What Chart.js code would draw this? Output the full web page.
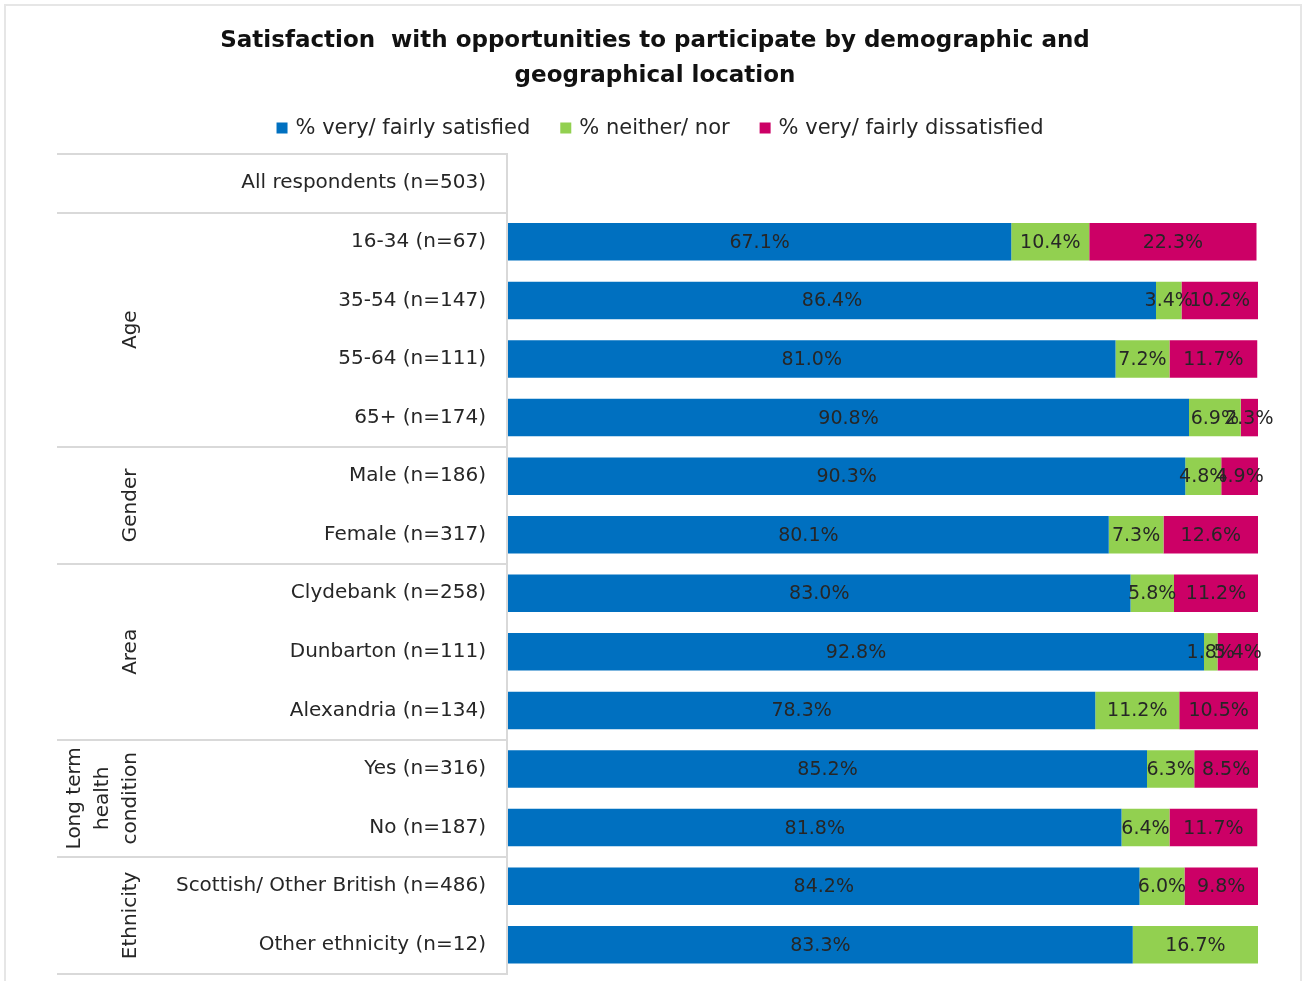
<!DOCTYPE html>
<html>
<head>
<meta charset="utf-8">
<title>Satisfaction with opportunities to participate</title>
<script src="https://cdn.jsdelivr.net/npm/chart.js@4.4.1/dist/chart.umd.min.js"></script>
<style>
  html, body { margin: 0; padding: 0; background: #fff; overflow: hidden; }
  #frame { position: absolute; left: 4px; top: 4px; width: 1298px; height: 1010px;
           border: 2px solid #e6e6e6; box-sizing: border-box; }
  #wrap { position: absolute; left: 0; top: 0; width: 1305px; height: 981px; }
</style>
</head>
<body>
<div id="frame"></div>
<div id="wrap"><canvas id="chart" width="1305" height="981"></canvas></div>
<script>
// Survey breakdown: share of respondents in each answer band, per sub-group
const titleLines = [
  'Satisfaction  with opportunities to participate by demographic and',
  'geographical location'
];
const categories = [
  'All respondents (n=503)',
  '16-34 (n=67)', '35-54 (n=147)', '55-64 (n=111)', '65+ (n=174)',
  'Male (n=186)', 'Female (n=317)',
  'Clydebank (n=258)', 'Dunbarton (n=111)', 'Alexandria (n=134)',
  'Yes (n=316)', 'No (n=187)',
  'Scottish/ Other British (n=486)', 'Other ethnicity (n=12)'
];
const seriesNames = ['% very/ fairly satisfied', '% neither/ nor', '% very/ fairly dissatisfied'];
const satisfied    = [null, 67.1, 86.4, 81.0, 90.8, 90.3, 80.1, 83.0, 92.8, 78.3, 85.2, 81.8, 84.2, 83.3];
const neither      = [null, 10.4,  3.4,  7.2,  6.9,  4.8,  7.3,  5.8,  1.8, 11.2,  6.3,  6.4,  6.0, 16.7];
const dissatisfied = [null, 22.3, 10.2, 11.7,  2.3,  4.9, 12.6, 11.2,  5.4, 10.5,  8.5, 11.7,  9.8, null];

// Row groups shown as rotated headings in the label table
const groupNames = [['Age'], ['Gender'], ['Area'], ['Long term', 'health', 'condition'], ['Ethnicity']];
const groupFirst = [1, 5, 7, 10, 12];
const groupLast  = [4, 6, 9, 11, 13];

const colors = ['#0070c0', '#92d050', '#cc0066'];
const textColor = '#262626';
const FONT = '"DejaVu Sans", sans-serif';

// Title, legend and the grouped label table around the bars
const framePlugin = {
  id: 'frameAndTable',
  afterDraw(chart) {
    const { ctx, chartArea, scales: { y } } = chart;
    const rowH = (y.bottom - y.top) / categories.length;
    const rowTop = i => y.getPixelForValue(i) - rowH / 2;
    ctx.save();

    // title
    ctx.fillStyle = '#111';
    ctx.font = 'bold 23px ' + FONT;
    ctx.textAlign = 'center';
    ctx.textBaseline = 'middle';
    titleLines.forEach((t, i) => ctx.fillText(t, 655, 41 + i * 35));

    // legend
    ctx.font = '21px ' + FONT;
    const box = 11, gapBox = 8, gapItem = 30;
    const widths = seriesNames.map(t => ctx.measureText(t).width);
    const total = widths.reduce((a, w) => a + w + box + gapBox, 0) + gapItem * (seriesNames.length - 1);
    let lx = 660 - total / 2;
    const ly = 128;
    ctx.textAlign = 'left';
    seriesNames.forEach((t, i) => {
      ctx.fillStyle = colors[i];
      ctx.fillRect(lx, ly - box / 2, box, box);
      lx += box + gapBox;
      ctx.fillStyle = textColor;
      ctx.fillText(t, lx, ly + 1);
      lx += widths[i] + gapItem;
    });

    // table rules
    ctx.strokeStyle = '#d9d9d9';
    ctx.lineWidth = 2;
    const rules = [0, ...groupFirst, categories.length];
    rules.forEach(i => {
      const py = Math.round(rowTop(i));
      ctx.beginPath();
      ctx.moveTo(57, py);
      ctx.lineTo(chartArea.left, py);
      ctx.stroke();
    });
    ctx.beginPath();
    ctx.moveTo(chartArea.left - 1, Math.round(rowTop(0)));
    ctx.lineTo(chartArea.left - 1, Math.round(rowTop(categories.length)));
    ctx.stroke();

    // rotated group headings
    ctx.fillStyle = textColor;
    ctx.font = '20px ' + FONT;
    ctx.textAlign = 'center';
    ctx.textBaseline = 'middle';
    groupNames.forEach((lines, k) => {
      const cy = (rowTop(groupFirst[k]) + rowTop(groupLast[k] + 1)) / 2;
      lines.forEach((t, j) => {
        const cx = 131 - (lines.length - 1 - j) * 28;
        ctx.save();
        ctx.translate(cx, cy);
        ctx.rotate(-Math.PI / 2);
        ctx.fillText(t, 0, 0);
        ctx.restore();
      });
    });
    ctx.restore();
  }
};

// Percentage labels centred in each bar segment
const valueLabels = {
  id: 'valueLabels',
  afterDatasetsDraw(chart) {
    const { ctx } = chart;
    ctx.save();
    ctx.font = '19px ' + FONT;
    ctx.fillStyle = textColor;
    ctx.textAlign = 'center';
    ctx.textBaseline = 'middle';
    chart.data.datasets.forEach((ds, di) => {
      chart.getDatasetMeta(di).data.forEach((el, i) => {
        const v = ds.data[i];
        if (v == null || v === 0) return;
        const p = el.getCenterPoint();
        ctx.fillText(v.toFixed(1) + '%', p.x, p.y + 1);
      });
    });
    ctx.restore();
  }
};

new Chart(document.getElementById('chart'), {
  type: 'bar',
  data: {
    labels: categories,
    datasets: [satisfied, neither, dissatisfied].map((d, i) => ({
      label: seriesNames[i],
      data: d,
      backgroundColor: colors[i],
      borderWidth: 0,
      barPercentage: 1,
      categoryPercentage: 0.64
    }))
  },
  options: {
    indexAxis: 'y',
    responsive: false,
    animation: false,
    layout: { padding: { top: 154, right: 47, bottom: 7, left: 0 } },
    plugins: {
      legend: { display: false },
      title: { display: false },
      tooltip: { enabled: false }
    },
    scales: {
      x: { stacked: true, min: 0, max: 100, display: false },
      y: {
        stacked: true,
        grid: { display: false, drawTicks: false },
        border: { display: false },
        ticks: { autoSkip: false, padding: 22, color: textColor, font: { family: FONT, size: 20 } },
        afterFit(scale) {
          scale.width = 508;
          scale.paddingTop = 0;
          scale.paddingBottom = 0;
        }
      }
    }
  },
  plugins: [framePlugin, valueLabels]
});
</script>
</body>
</html>
